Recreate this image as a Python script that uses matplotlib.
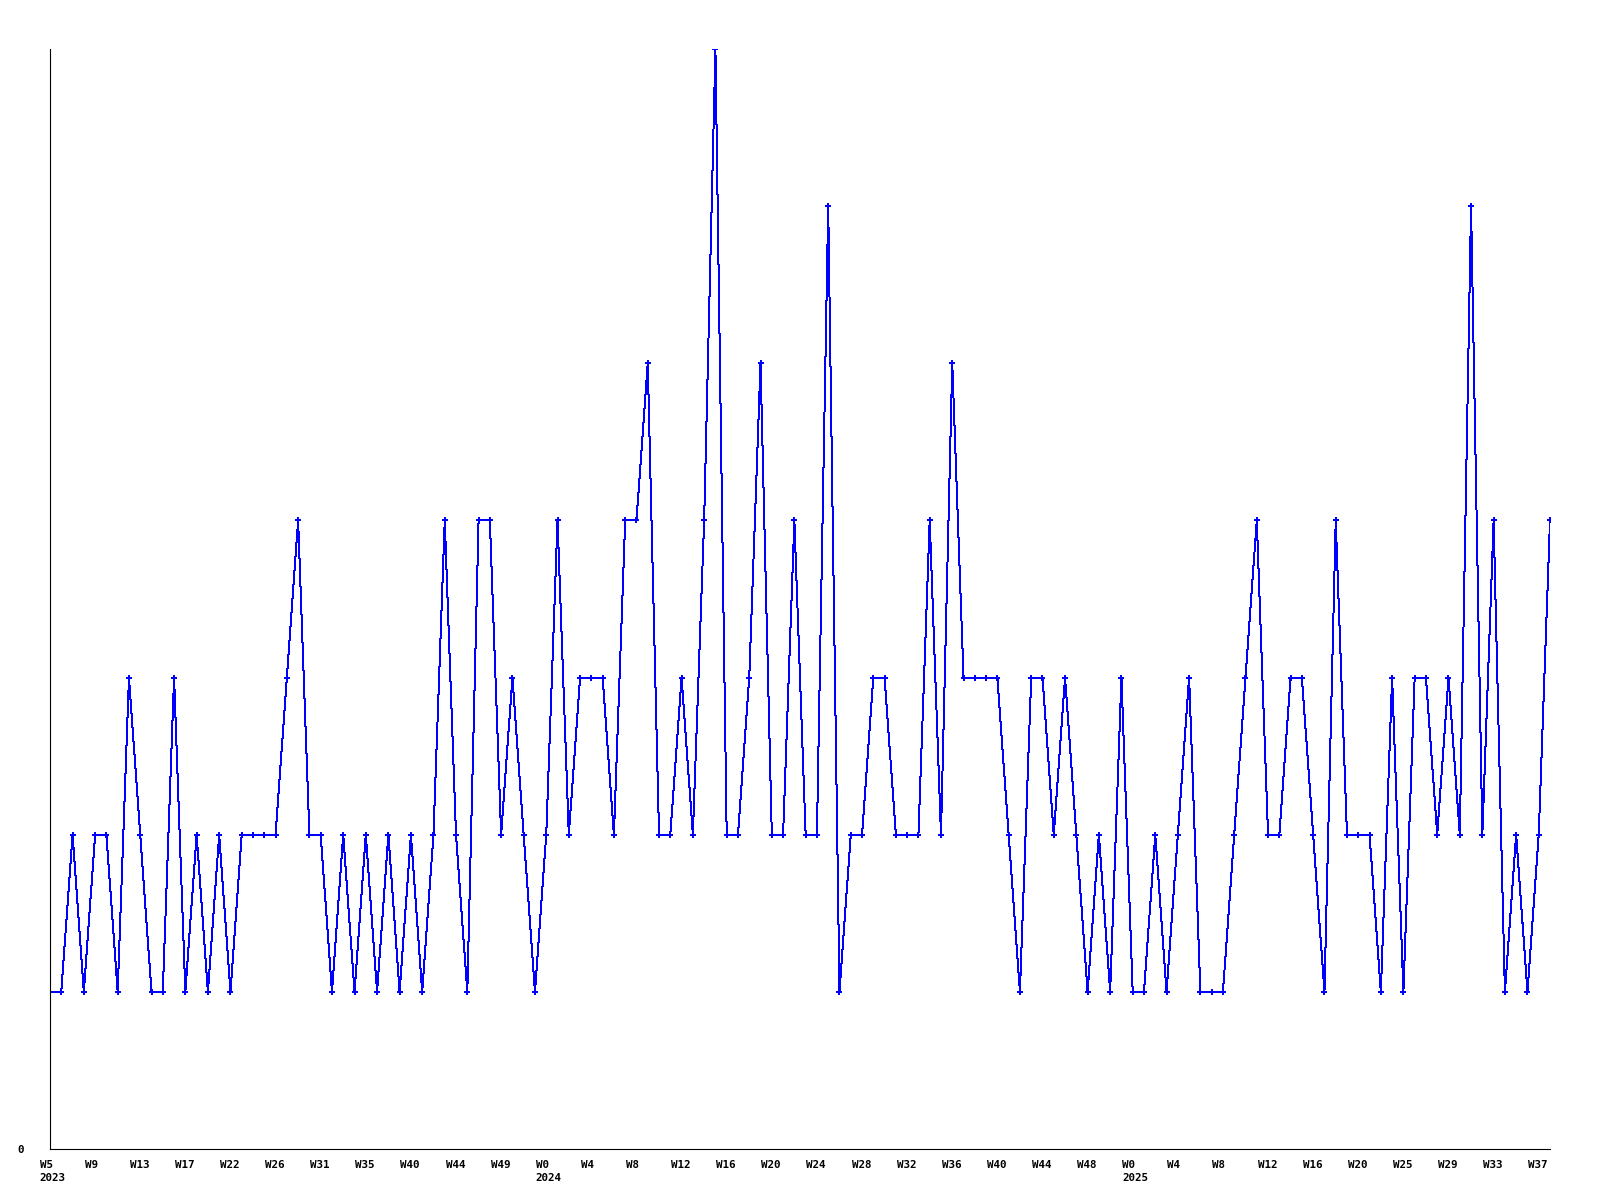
import numpy as np
import matplotlib
matplotlib.use("Agg")
import matplotlib.pyplot as plt
import matplotlib.transforms as mtransforms

# weekly counts
counts = [1, 1, 2, 1, 2, 2, 1, 3, 2, 1,
          1, 3, 1, 2, 1, 2, 1, 2, 2, 2,
          2, 3, 4, 2, 2, 1, 2, 1, 2, 1,
          2, 1, 2, 1, 2, 4, 2, 1, 4, 4,
          2, 3, 2, 1, 2, 4, 2, 3, 3, 3,
          2, 4, 4, 5, 2, 2, 3, 2, 4, 7,
          2, 2, 3, 5, 2, 2, 4, 2, 2, 6,
          1, 2, 2, 3, 3, 2, 2, 2, 4, 2,
          5, 3, 3, 3, 3, 2, 1, 3, 3, 2,
          3, 2, 1, 2, 1, 3, 1, 1, 2, 1,
          2, 3, 1, 1, 1, 2, 3, 4, 2, 2,
          3, 3, 2, 1, 4, 2, 2, 2, 1, 3,
          1, 3, 3, 2, 3, 2, 6, 2, 4, 1,
          2, 1, 2, 4]

# tick labels (every 4th point)
week_labels = ['W5', 'W9', 'W13', 'W17', 'W22', 'W26', 'W31', 'W35', 'W40', 'W44', 'W49',
               'W0', 'W4', 'W8', 'W12', 'W16', 'W20', 'W24', 'W28', 'W32', 'W36', 'W40', 'W44', 'W48',
               'W0', 'W4', 'W8', 'W12', 'W16', 'W20', 'W25', 'W29', 'W33', 'W37']
year_labels = {0: '2023', 11: '2024', 24: '2025'}

x = np.arange(len(counts))
tick_pos = x[::4]

fig = plt.figure(figsize=(16, 12), dpi=100)
ax = fig.add_axes([50 / 1600, 51 / 1200, 1500 / 1600, 1100 / 1200])

ax.plot(x, counts, color='#0000ff', linewidth=0.72, marker='P', markersize=4.5,
        markeredgewidth=0, antialiased=False)

ax.set_xlim(0, len(counts) - 1)
ax.set_ylim(0, 7)

ax.spines['top'].set_visible(False)
ax.spines['right'].set_visible(False)
ax.spines['left'].set_linewidth(0.8)
ax.spines['bottom'].set_linewidth(0.8)

font = dict(family='DejaVu Sans Mono', weight='bold', size=7.8)

labels = []
for i, w in enumerate(week_labels):
    if i in year_labels:
        labels.append(w + '\n' + year_labels[i])
    else:
        labels.append(w)
ax.set_xticks(tick_pos)
ax.set_xticklabels(labels, ha='left', linespacing=1.35, **font)
ax.tick_params(axis='x', length=0, pad=8)
offset = mtransforms.ScaledTranslation(-10.5 / 100, 0, fig.dpi_scale_trans)
for lab in ax.get_xticklabels():
    lab.set_transform(lab.get_transform() + offset)

ax.set_yticks([0])
ax.set_yticklabels(['0'], **font)
ax.tick_params(axis='y', length=0, pad=19)

fig.savefig('out.png', dpi=100)
